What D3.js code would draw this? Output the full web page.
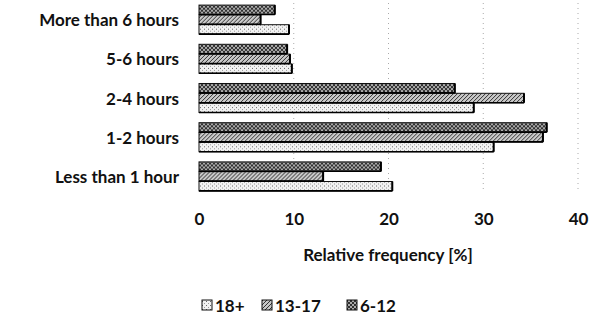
<!DOCTYPE html>
<html><head><meta charset="utf-8">
<script src="https://cdn.jsdelivr.net/npm/d3@7"></script>
<style>
html,body{margin:0;padding:0;background:#fff;}
svg{display:block;font-family:Lato,"Open Sans",sans-serif;}
</style></head>
<body>
<svg id="chart" width="596" height="331"></svg>
<script>
const categories = ["Less than 1 hour","1-2 hours","2-4 hours","5-6 hours","More than 6 hours"];
const seriesNames = ["18+","13-17","6-12"];
const values18 = [20.4, 31.1, 29.0, 9.8, 9.5];
const values13_17 = [13.1, 36.3, 34.3, 9.6, 6.5];
const values6_12 = [19.2, 36.7, 27.0, 9.3, 8.0];
const xTicks = [0,10,20,30,40];
const xTitle = "Relative frequency [%]";

const seriesValues = [values18, values13_17, values6_12];
const svg = d3.select("#chart");
const defs = svg.append("defs");

// patterns
const p1 = defs.append("pattern").attr("id","pat0").attr("patternUnits","userSpaceOnUse").attr("width",4).attr("height",4);
p1.append("rect").attr("width",4).attr("height",4).attr("fill","#f2f2f2");
p1.append("rect").attr("x",0).attr("y",0).attr("width",1).attr("height",1).attr("fill","#666");
p1.append("rect").attr("x",2).attr("y",2).attr("width",1).attr("height",1).attr("fill","#999");
const p2 = defs.append("pattern").attr("id","pat1").attr("patternUnits","userSpaceOnUse").attr("width",4).attr("height",4);
p2.append("rect").attr("width",4).attr("height",4).attr("fill","#c8c8c8");
p2.append("path").attr("d","M0,4 L4,0 M-1,1 L1,-1 M3,5 L5,3").attr("stroke","#333").attr("stroke-width",1);
const p3 = defs.append("pattern").attr("id","pat2").attr("patternUnits","userSpaceOnUse").attr("width",4).attr("height",4);
p3.append("rect").attr("width",4).attr("height",4).attr("fill","#aaa");
p3.append("path").attr("d","M0,0 L4,4 M0,4 L4,0").attr("stroke","#222").attr("stroke-width",0.9);

const x = d3.scaleLinear().domain([0,40]).range([199,578]);
const y = d3.scaleBand().domain(categories.slice().reverse()).range([0,196]).paddingInner(0.24).paddingOuter(0.12);
// series 0 at bottom of group
const ySub = d3.scaleBand().domain([2,1,0]).range([0,y.bandwidth()]).padding(0.04);

// gridlines
svg.append("g").selectAll("line").data(xTicks.filter(t=>t>0)).join("line")
  .attr("x1",d=>x(d)).attr("x2",d=>x(d)).attr("y1",3).attr("y2",192)
  .attr("stroke","#aaa").attr("stroke-width",1).attr("stroke-dasharray","1,4");

// bars
const groups = svg.append("g").selectAll("g").data(categories).join("g")
  .attr("transform",d=>`translate(0,${y(d)})`);
seriesValues.forEach((vals,si)=>{
  groups.append("rect")
    .attr("x",x(0))
    .attr("y",ySub(si))
    .attr("width",(d,i)=>x(vals[i])-x(0))
    .attr("height",ySub.bandwidth())
    .attr("fill",`url(#pat${si})`)
    .attr("stroke","#111").attr("stroke-width",1);
  groups.append("line")
    .attr("x1",(d,i)=>x(vals[i])).attr("x2",(d,i)=>x(vals[i]))
    .attr("y1",ySub(si)).attr("y2",ySub(si)+ySub.bandwidth())
    .attr("stroke","#000").attr("stroke-width",2);
  groups.append("line")
    .attr("x1",x(0)).attr("x2",(d,i)=>x(vals[i]))
    .attr("y1",ySub(si)+ySub.bandwidth()).attr("y2",ySub(si)+ySub.bandwidth())
    .attr("stroke","#000").attr("stroke-width",1.6);
});

const txtColor = "#111";
// category labels
svg.append("g").selectAll("text").data(categories).join("text")
  .attr("x",179).attr("y",d=>y(d)+y.bandwidth()/2)
  .attr("text-anchor","end").attr("dominant-baseline","central")
  .attr("font-size",17).attr("font-weight","bold").attr("fill",txtColor).text(d=>d);

// x axis
const xAxis = d3.axisBottom(x).tickValues(xTicks).tickSize(0).tickPadding(0);
const gx = svg.append("g").attr("transform","translate(0,213)").call(xAxis);
gx.select(".domain").remove();
gx.selectAll("text").attr("font-size",17).attr("font-weight","bold").attr("fill",txtColor).attr("font-family","Lato,'Open Sans',sans-serif");

svg.append("text").attr("x",388).attr("y",254).attr("text-anchor","middle")
  .attr("dominant-baseline","central").attr("font-size",17).attr("font-weight","bold").attr("fill",txtColor).text(xTitle);

// legend
const legendX = [202, 262, 347];
const lg = svg.append("g").selectAll("g").data(seriesNames).join("g")
  .attr("transform",(d,i)=>`translate(${legendX[i]},305)`);
lg.append("rect").attr("x",0).attr("y",-5).attr("width",10).attr("height",10)
  .attr("fill",(d,i)=>`url(#pat${i})`).attr("stroke","#111");
lg.append("text").attr("x",13).attr("y",0).attr("dominant-baseline","central")
  .attr("font-size",17).attr("font-weight","bold").attr("fill",txtColor).text(d=>d);
</script>
</body></html>
